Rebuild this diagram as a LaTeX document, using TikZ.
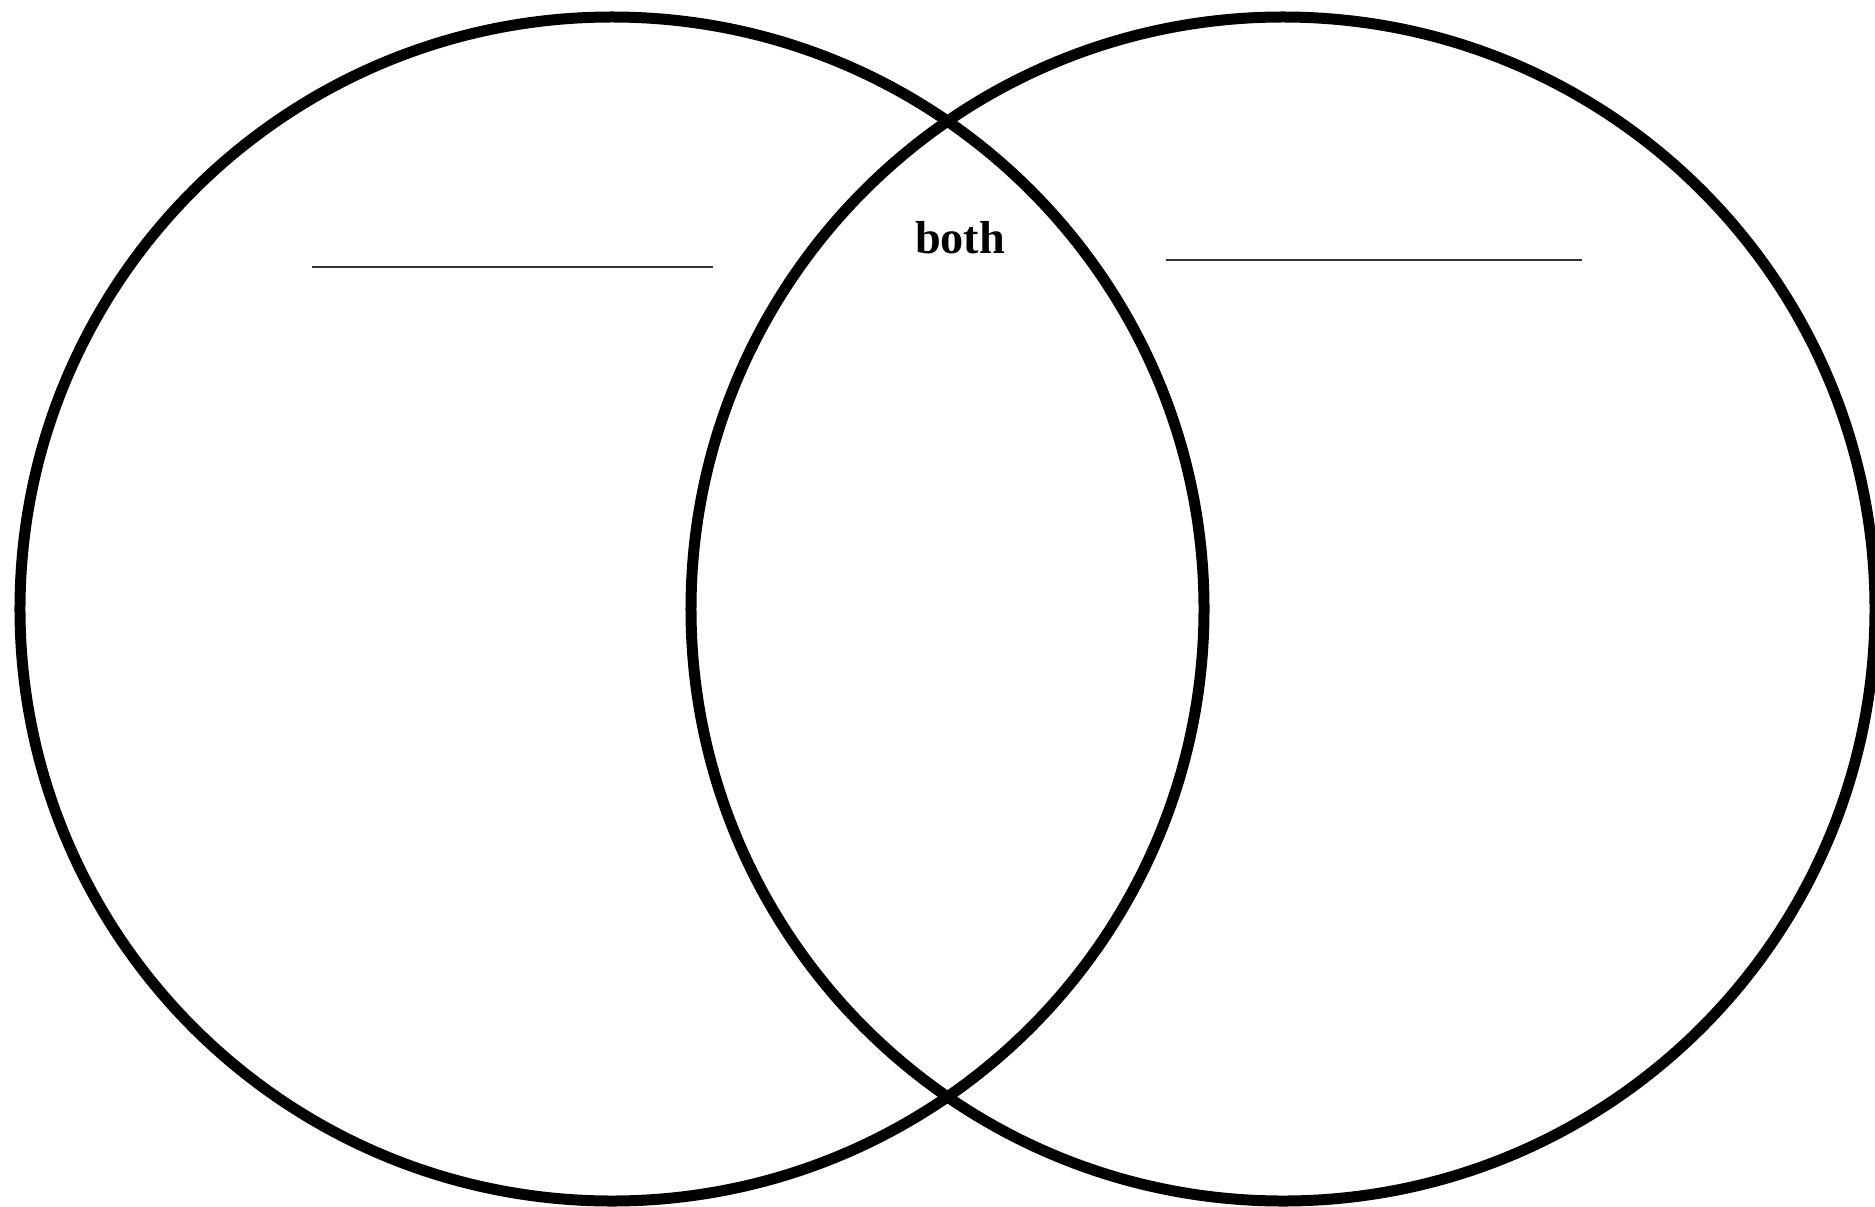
\documentclass[tikz,border=0pt]{standalone}
\usepackage{fontspec}
\setmainfont{Liberation Serif}
\begin{document}
\begin{tikzpicture}[x=0.4pt,y=-0.4pt,
  setcircle/.style={draw=black,circle,line width=4.4pt,inner sep=0pt,minimum size=473.6pt},
  blankline/.style={draw=black!80,line width=0.9pt},
  lbl/.style={font=\fontsize{18.5}{20}\selectfont\bfseries,inner sep=0pt,anchor=base}]
\useasboundingbox (0,0) rectangle (1875,1207);
\clip (0,0) rectangle (1875,1207);
\node[setcircle] (left) at (612,609) {};
\node[setcircle] (right) at (1283,609) {};
\node[lbl] (both) at (960,253) {both};
\coordinate (l1) at (312,267);
\coordinate (l2) at (713,267);
\coordinate (r1) at (1166,260);
\coordinate (r2) at (1582,260);
\draw[blankline] (l1) -- (l2);
\draw[blankline] (r1) -- (r2);
\end{tikzpicture}
\end{document}
